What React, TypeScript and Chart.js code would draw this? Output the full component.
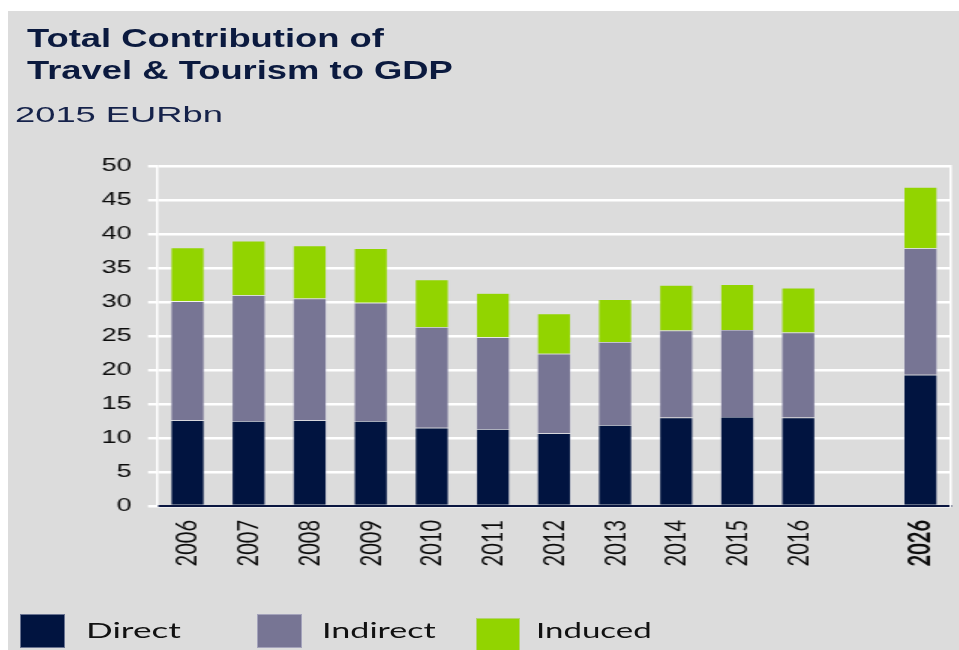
import React, { useEffect, useRef } from "react";
import { Chart, registerables } from "chart.js";

Chart.register(...registerables);

const categories = ["2006", "2007", "2008", "2009", "2010", "2011", "2012", "2013", "2014", "2015", "2016", "", "2026"];
const directValues = [12.6, 12.5, 12.6, 12.5, 11.5, 11.3, 10.7, 11.9, 13.0, 13.1, 13.0, null, 19.3];
const indirectValues = [17.5, 18.5, 17.9, 17.4, 14.8, 13.5, 11.7, 12.2, 12.8, 12.8, 12.5, null, 18.6];
const inducedValues = [7.9, 8.0, 7.8, 8.0, 7.0, 6.5, 5.9, 6.3, 6.7, 6.7, 6.6, null, 9.0];
const yTickValues = [0, 5, 10, 15, 20, 25, 30, 35, 40, 45, 50];
const seriesNames = ["Direct", "Indirect", "Induced"];
const seriesColors = ["#011440", "#777594", "#92d400"];

const SX = 1.5;
const CW = 640;
const CH = 650;

export default function App() {
  const ref = useRef<HTMLCanvasElement | null>(null);

  useEffect(() => {
    if (!ref.current) return;
    const values = [directValues, indirectValues, inducedValues];
    const chart = new Chart(ref.current, {
      type: "bar",
      data: {
        labels: categories,
        datasets: seriesNames.map((name, i) => ({
          label: name,
          data: values[i],
          backgroundColor: seriesColors[i],
          borderColor: "rgba(220,220,235,0.45)",
          borderWidth: 0.7,
          barPercentage: 0.557,
          categoryPercentage: 1,
        })),
      },
      options: {
        responsive: false,
        animation: false,
        devicePixelRatio: 1,
        layout: { padding: { top: 166, right: 6, left: 0, bottom: 0 } },
        plugins: { legend: { display: false }, tooltip: { enabled: false }, title: { display: false } },
        scales: {
          x: {
            stacked: true,
            offset: true,
            grid: { display: false, drawTicks: false },
            border: { display: true, color: "#0a1640", width: 2 },
            ticks: {
              autoSkip: false,
              maxRotation: 90,
              minRotation: 90,
              padding: 14,
              color: "#0c0c0c",
              font: (ctx: any) => {
                const lab = ctx.tick ? ctx.tick.label : "";
                return { family: "Lato", size: 20, weight: lab === "2026" ? "bold" : "normal" };
              },
            },
            afterFit: (s: any) => {
              s.height = CH - 506;
              s.paddingLeft = 0;
              s.paddingRight = 0;
            },
          },
          y: {
            stacked: true,
            min: 0,
            max: 50,
            afterBuildTicks: (s: any) => {
              s.ticks = yTickValues.map((v) => ({ value: v }));
            },
            grid: { color: "#ffffff", lineWidth: 2.5, tickLength: 6, tickWidth: 2.5, tickColor: "#ffffff" },
            border: { display: true, color: "#ffffff", width: 1.5 },
            ticks: {
              padding: 11,
              color: "#0c0c0c",
              font: { family: "Liberation Sans", size: 18 },
            },
            afterFit: (s: any) => {
              s.width = 157 / SX;
            },
          },
          y2: {
            position: "right",
            min: 0,
            max: 50,
            grid: { display: false, drawTicks: false },
            ticks: { display: false },
            border: { display: true, color: "#ffffff", width: 1.5 },
            afterFit: (s: any) => {
              s.width = 0;
            },
          },
        },
      },
    });
    return () => chart.destroy();
  }, []);

  const titleStyle: React.CSSProperties = {
    position: "absolute",
    left: 27,
    fontFamily: "'Liberation Sans', Arial, sans-serif",
    fontWeight: "bold",
    fontSize: 25,
    lineHeight: "25px",
    color: "#0b1a3f",
    whiteSpace: "nowrap",
    transform: "scaleX(1.455)",
    transformOrigin: "0 0",
  };

  const legendItems = [
    { name: seriesNames[0], color: seriesColors[0], box: [19.6, 614, 45, 34], text: 85.6, sx: 1.6 },
    { name: seriesNames[1], color: seriesColors[1], box: [257, 614, 45, 34], text: 322, sx: 1.55 },
    { name: seriesNames[2], color: seriesColors[2], box: [476, 618, 44, 34], text: 536, sx: 1.5 },
  ];

  return (
    <div style={{ position: "absolute", left: 0, top: 0, width: 959, height: 650, background: "#ffffff", overflow: "hidden" }}>
      <div style={{ position: "absolute", left: 8, top: 11, width: 951, height: 639, background: "#dcdcdc" }} />
      <div style={{ position: "absolute", left: 0, top: 0, width: CW, height: CH, transform: `scaleX(${SX})`, transformOrigin: "0 0" }}>
        <canvas ref={ref} width={CW} height={CH} style={{ display: "block" }} />
      </div>
      <div style={{ ...titleStyle, top: 25.5 }}>Total Contribution of</div>
      <div style={{ ...titleStyle, top: 58 }}>Travel &amp; Tourism to GDP</div>
      <div
        style={{
          position: "absolute",
          left: 15,
          top: 104,
          fontFamily: "'Liberation Sans', Arial, sans-serif",
          fontSize: 22,
          lineHeight: "22px",
          color: "#15224a",
          whiteSpace: "nowrap",
          transform: "scaleX(1.65)",
          transformOrigin: "0 0",
        }}
      >
        2015 EURbn
      </div>
      {legendItems.map((it) => (
        <React.Fragment key={it.name}>
          <div
            style={{
              position: "absolute",
              left: it.box[0],
              top: it.box[1],
              width: it.box[2],
              height: it.box[3],
              background: it.color,
              boxSizing: "border-box",
              border: "1px solid rgba(210,210,225,0.5)",
            }}
          />
          <div
            style={{
              position: "absolute",
              left: it.text,
              top: 618.8,
              fontFamily: "Lato, sans-serif",
              fontSize: 22,
              lineHeight: "22px",
              color: "#111111",
              whiteSpace: "nowrap",
              transform: `scaleX(${it.sx})`,
              transformOrigin: "0 0",
            }}
          >
            {it.name}
          </div>
        </React.Fragment>
      ))}
    </div>
  );
}
